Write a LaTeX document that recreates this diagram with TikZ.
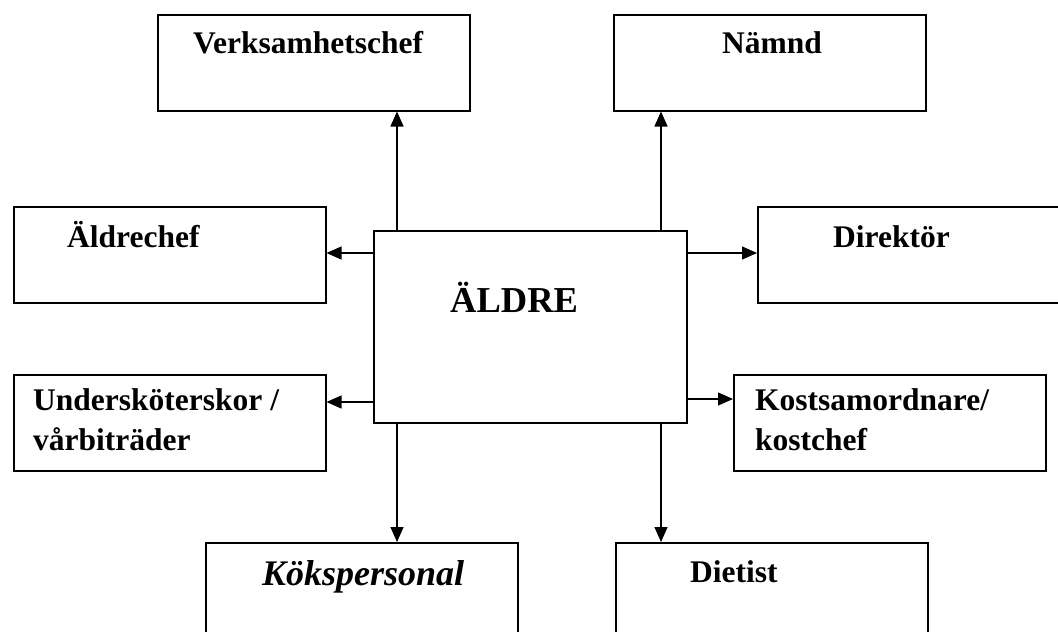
\documentclass[tikz,border=0pt]{standalone}
\usepackage{fontspec}
\setmainfont{Liberation Serif}
\usetikzlibrary{arrows.meta,positioning}

\begin{document}
\begin{tikzpicture}[x=1pt,y=-1pt,
    ruta/.style={draw, line width=1.5pt, minimum width=312pt, minimum height=96pt, inner sep=0pt, anchor=north west},
    etikett/.style={inner sep=0pt, anchor=base west, align=left, font=\bfseries\fontsize{31.5}{40}\selectfont},
    pil/.style={line width=1.1pt, -{Triangle[length=15pt,width=13pt]}}]
    \useasboundingbox (0,0) rectangle (1058,632);
    \clip (0,0) rectangle (1058,632);
    % rutor
    \node[ruta] (vchef) at (157,14) {};
    \node[ruta] (namnd) at (613,14) {};
    \node[ruta] (achef) at (13,206) {};
    \node[ruta] (direktor) at (757,206) {};
    \node[ruta] (usk) at (13,374) {};
    \node[ruta] (kost) at (733,374) {};
    \node[ruta] (kok) at (205,542) {};
    \node[ruta] (dietist) at (615,542) {};
    \node[ruta, minimum width=313pt, minimum height=192pt] (aldre) at (373,230) {};
    % texter (tvaradiga noder: base = sista raden)
    \node[etikett] (t-vchef) at ([shift={(36,39)}]vchef.north west) {Verksamhetschef};
    \node[etikett] (t-namnd) at ([shift={(109,39)}]namnd.north west) {Nämnd};
    \node[etikett] (t-achef) at ([shift={(54,41)}]achef.north west) {Äldrechef};
    \node[etikett] (t-direktor) at ([shift={(76,41)}]direktor.north west) {Direktör};
    \node[etikett] (t-usk) at ([shift={(20,76)}]usk.north west) {Undersköterskor /\\vårbiträder};
    \node[etikett] (t-kost) at ([shift={(22,76)}]kost.north west) {Kostsamordnare/\\kostchef};
    \node[etikett, font=\bfseries\itshape\fontsize{36}{40}\selectfont] (t-kok) at ([shift={(57,43)}]kok.north west) {Kökspersonal};
    \node[etikett] (t-dietist) at ([shift={(75,40)}]dietist.north west) {Dietist};
    \node[etikett, font=\bfseries\fontsize{36.5}{40}\selectfont] (t-aldre) at ([shift={(77,82)}]aldre.north west) {ÄLDRE};
    % pilar
    \coordinate (x1) at (397,0);
    \coordinate (x2) at (661,0);
    \coordinate (y1) at (0,253);
    \coordinate (y2) at (0,402);
    \coordinate (y3) at (0,399);
    \draw[pil] (aldre.north -| x1) -- (vchef.south -| x1);
    \draw[pil] (aldre.north -| x2) -- (namnd.south -| x2);
    \draw[pil] (aldre.west |- y1) -- (achef.east |- y1);
    \draw[pil] (aldre.west |- y2) -- (usk.east |- y2);
    \draw[pil] (aldre.east |- y1) -- (direktor.west |- y1);
    \draw[pil] (aldre.east |- y3) -- (kost.west |- y3);
    \draw[pil] (aldre.south -| x1) -- (kok.north -| x1);
    \draw[pil] (aldre.south -| x2) -- (dietist.north -| x2);
\end{tikzpicture}
\end{document}
